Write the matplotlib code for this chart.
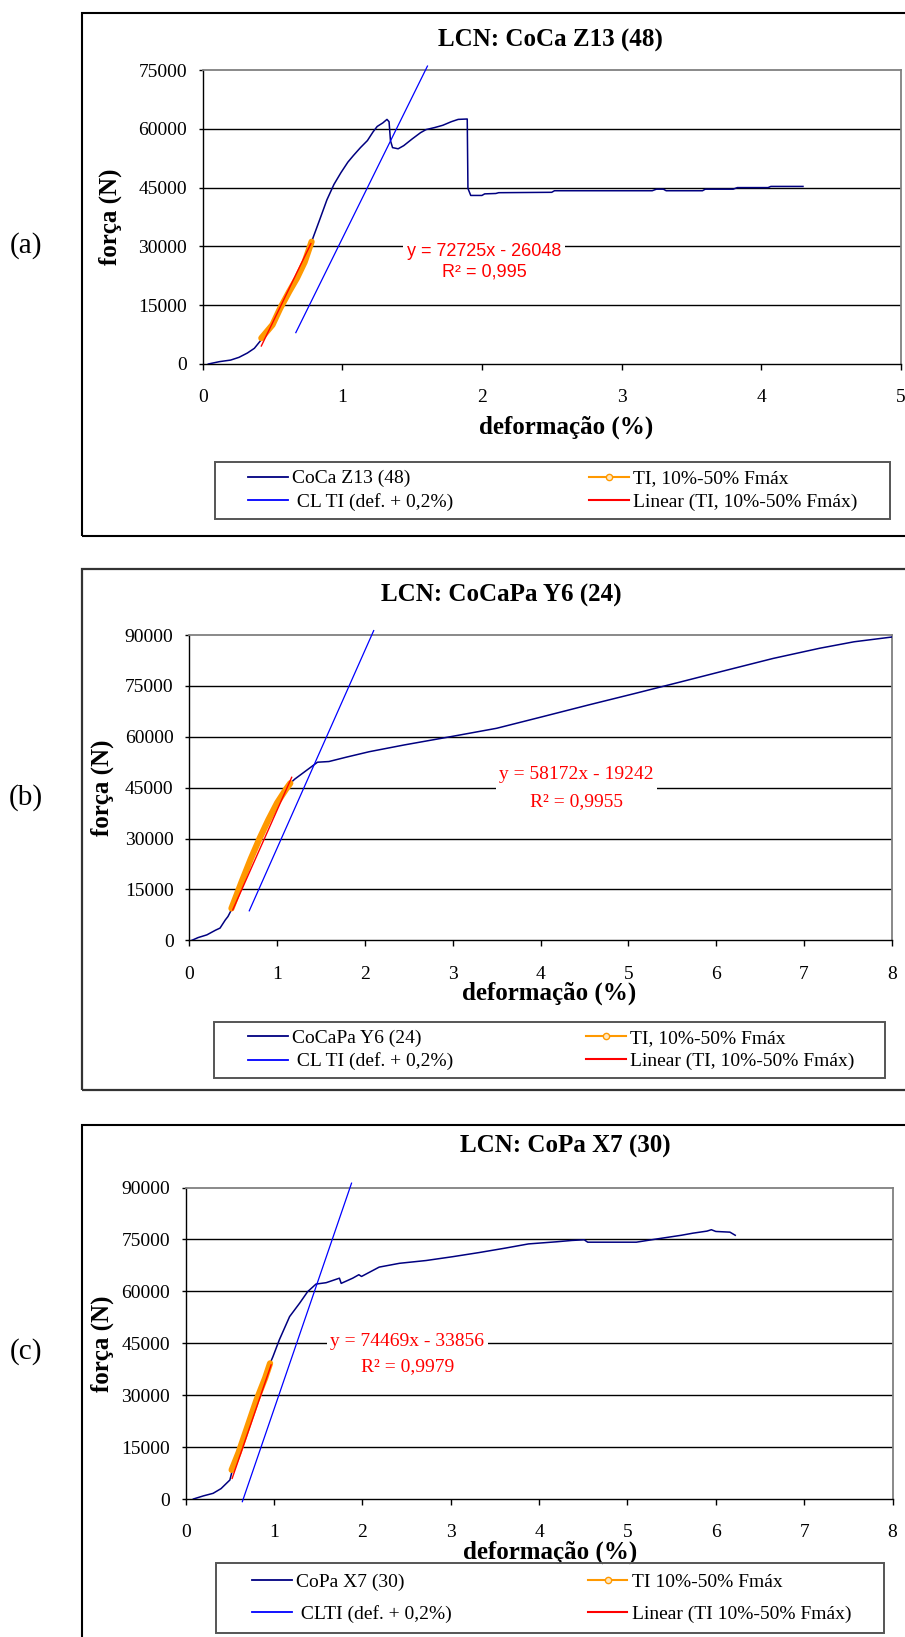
import numpy as np
import matplotlib.pyplot as plt
from matplotlib.lines import Line2D
from matplotlib.patches import Rectangle

W, H = 905, 1637

# ---- (a) LCN: CoCa Z13 (48) ----
a_def = [0.04, 0.12, 0.2, 0.26, 0.32, 0.37, 0.42, 0.5, 0.555, 0.62, 0.675, 0.73, 0.78,
         0.84, 0.89, 0.94, 0.99, 1.04, 1.08, 1.13, 1.18, 1.22, 1.25, 1.29, 1.32, 1.335,
         1.345, 1.36, 1.4, 1.44, 1.5, 1.56, 1.6, 1.66, 1.72, 1.78, 1.83, 1.895, 1.9, 1.92,
         2.0, 2.02, 2.1, 2.12, 2.5, 2.52, 3.22, 3.25, 3.3, 3.32, 3.58, 3.6, 3.8, 3.83,
         4.05, 4.07, 4.3]
a_forca = [0, 600, 1000, 1700, 2800, 4000, 6200, 10000, 14200, 18500, 21900, 26000, 31200,
           37000, 41900, 45800, 48800, 51500, 53200, 55200, 57000, 59200, 60600, 61500, 62400, 61800,
           57000, 55200, 54900, 55700, 57400, 59000, 59800, 60300, 60900, 61800, 62400, 62500, 44800, 43000,
           43000, 43400, 43500, 43700, 43800, 44200, 44200, 44600, 44600, 44200, 44200, 44600, 44600, 45000,
           45000, 45300, 45300]
a_ti_def = [0.42, 0.5, 0.555, 0.62, 0.675, 0.73, 0.78]
a_ti_forca = [6600, 10000, 14200, 18500, 21900, 26000, 31200]
a_lin_def = [0.42, 0.775]
a_lin_forca = [4600, 30700]
a_cl_def = [0.667, 1.61]
a_cl_forca = [8000, 76000]

# ---- (b) LCN: CoCaPa Y6 (24) ----
b_def = [0.03, 0.1, 0.2, 0.3, 0.35, 0.41, 0.44, 0.48, 0.6, 0.7, 0.8, 0.9, 1.0, 1.1, 1.15,
         1.2, 1.33, 1.46, 1.59, 1.79, 2.05, 2.45, 2.97, 3.5, 4.02, 4.55, 5.08, 5.6, 6.13,
         6.65, 7.18, 7.57, 8.0]
b_forca = [0, 800, 1600, 3000, 3600, 6000, 7000, 9000, 17500, 24000, 30000, 35500, 40500, 44500, 46300,
           47500, 50000, 52500, 52700, 54000, 55600, 57600, 60000, 62500, 65900, 69400, 72800, 76200, 79700,
           83100, 86100, 88000, 89400]
b_ti_def = [0.48, 0.6, 0.7, 0.8, 0.9, 1.0, 1.1, 1.15]
b_ti_forca = [9400, 17500, 24000, 30000, 35500, 40500, 44500, 46300]
b_lin_def = [0.494, 1.166]
b_lin_forca = [8930, 48050]
b_cl_def = [0.683, 2.1]
b_cl_forca = [8700, 91300]

# ---- (c) LCN: CoPa X7 (30) ----
c_def = [0.087, 0.2, 0.31, 0.4, 0.5, 0.52, 0.6, 0.7, 0.8, 0.9, 0.955, 0.987, 1.06, 1.176,
         1.29, 1.38, 1.475, 1.59, 1.74, 1.76, 1.89, 1.96, 1.99, 2.19, 2.42, 2.72, 3.02,
         3.32, 3.62, 3.88, 4.19, 4.37, 4.51, 4.55, 5.1, 5.35, 5.61, 5.74, 5.9, 5.95, 6.0,
         6.16, 6.22]
c_forca = [0, 900, 1640, 3000, 5490, 7500, 13500, 21000, 28500, 35000, 39200, 41100, 46000, 52700,
           56600, 59900, 62100, 62500, 63800, 62300, 63800, 64800, 64300, 67000, 68100, 68900, 70000,
           71200, 72500, 73700, 74300, 74700, 74900, 74200, 74200, 75200, 76200, 76800, 77400, 77800, 77300,
           77100, 76200]
c_ti_def = [0.52, 0.6, 0.7, 0.8, 0.9, 0.955]
c_ti_forca = [8400, 13500, 21000, 28500, 35000, 39200]
c_lin_def = [0.526, 0.967]
c_lin_forca = [5970, 38740]
c_cl_def = [0.641, 1.877]
c_cl_forca = [-770, 91250]

SERIF = 'Liberation Serif'
plt.rcParams['font.family'] = SERIF

fig = plt.figure(figsize=(W / 100, H / 100), dpi=100)


def fx(px):
    return px / W


def fy(py):
    return 1 - py / H


def painel(left, top, right, bottom, xmax, ymax, d, f, tid, tif, lind, linf, cld, clf):
    ax = fig.add_axes([fx(left), fy(bottom), fx(right - left), (bottom - top) / H])
    ax.plot(d, f, color='#000080', lw=1.1, zorder=3)
    ax.plot(cld, clf, color='#0000FF', lw=0.9, zorder=3, clip_on=False)
    ax.plot(tid, tif, color='#FF9900', lw=4.5, solid_capstyle='round', zorder=4)
    ax.plot(lind, linf, color='#FF0000', lw=1.0, zorder=5)
    ax.set_xlim(0, xmax)
    ax.set_ylim(0, ymax)
    ax.set_xticks(range(0, xmax + 1))
    ax.set_yticks(np.arange(0, ymax + 1, 15000))
    for yv in np.arange(15000, ymax, 15000):
        ax.axhline(yv, color='black', lw=1.0, zorder=1)
    ax.spines['top'].set_color('#808080')
    ax.spines['right'].set_color('#808080')
    ax.spines['top'].set_linewidth(1.3)
    ax.spines['right'].set_linewidth(1.3)
    ax.spines['left'].set_linewidth(1.0)
    ax.spines['bottom'].set_linewidth(1.0)
    ax.tick_params(axis='x', direction='out', length=4.3, width=1, pad=14, labelsize=14)
    ax.tick_params(axis='y', direction='out', length=2.9, width=1, pad=8.4, labelsize=14)
    return ax


def legenda(hx1, hx2, ycen, labels, lspace):
    h_cur = Line2D([], [], color='#000080', lw=1.3)
    h_cl = Line2D([], [], color='#0000FF', lw=1.3)
    h_ti = Line2D([], [], color='#FF9900', lw=1.5, marker='o', ms=4.5, mfc='#FFE8C0', mec='#FF9900')
    h_lin = Line2D([], [], color='#FF0000', lw=1.5)
    kw = dict(loc='center left', frameon=False, borderpad=0, borderaxespad=0,
              handlelength=2.05, handletextpad=0.22, labelspacing=lspace,
              prop={'family': SERIF, 'size': 14})
    fig.legend([h_cur, h_cl], labels[:2], bbox_to_anchor=(fx(hx1), fy(ycen)), **kw)
    fig.legend([h_ti, h_lin], labels[2:], bbox_to_anchor=(fx(hx2), fy(ycen)), **kw)


def caixa(left, top, right, bottom, color, lw):
    fig.patches.append(Rectangle((fx(left), fy(bottom)), fx(right - left), (bottom - top) / H,
                                 transform=fig.transFigure, fill=False, ec=color, lw=lw))


# panel frames
caixa(81.7, 13.3, 960, 535.7, 'black', 1.5)
caixa(81.7, 569.3, 960, 1090, '#333333', 1.6)
caixa(81.7, 1125, 960, 1700, 'black', 1.5)

# legend frames
caixa(214.7, 462.3, 890, 519, '#555555', 1.4)
caixa(213.6, 1021.7, 885, 1078.3, '#555555', 1.4)
caixa(216, 1563, 884, 1633.3, '#555555', 1.4)

# ---- panel (a)
ax1 = painel(202.7, 70, 900.7, 364, 5, 75000, a_def, a_forca, a_ti_def, a_ti_forca,
             a_lin_def, a_lin_forca, a_cl_def, a_cl_forca)
ax1.set_title('LCN: CoCa Z13 (48)', fontsize=18, fontweight='bold', x=0.4976, y=1.101, va='center', pad=0)
ax1.set_xlabel('deformação (%)', fontsize=18, fontweight='bold', va='center')
ax1.xaxis.set_label_coords(0.5205, -0.2143)
ax1.set_ylabel('força (N)', fontsize=18, fontweight='bold', va='center')
ax1.yaxis.set_label_coords(-0.1328, 0.5)
ax1.text(2.015, 26100, 'y = 72725x - 26048\nR² = 0,995', color='#FF0000', fontsize=13,
         family='Liberation Sans', ha='center', va='center', linespacing=1.3, zorder=6,
         bbox=dict(fc='white', ec='none', pad=2.5))
legenda(248, 588.7, 490.5, ['CoCa Z13 (48)', ' CL TI (def. + 0,2%)',
                            'TI, 10%-50% Fmáx', 'Linear (TI, 10%-50% Fmáx)'], 0.3)

# ---- panel (b)
ax2 = painel(189.3, 635, 891.8, 940.3, 8, 90000, b_def, b_forca, b_ti_def, b_ti_forca,
             b_lin_def, b_lin_forca, b_cl_def, b_cl_forca)
ax2.set_title('LCN: CoCaPa Y6 (24)', fontsize=18, fontweight='bold', x=0.4446, y=1.131, va='center', pad=0)
ax2.set_xlabel('deformação (%)', fontsize=18, fontweight='bold', va='center')
ax2.xaxis.set_label_coords(0.5129, -0.1726)
ax2.set_ylabel('força (N)', fontsize=18, fontweight='bold', va='center')
ax2.yaxis.set_label_coords(-0.1233, 0.5)
ax2.text(4.41, 44930, 'y = 58172x - 19242\nR² = 0,9955', color='#FF0000', fontsize=14,
         ha='center', va='center', linespacing=1.75, zorder=6,
         bbox=dict(fc='white', ec='none', pad=2.5))
legenda(248, 585.8, 1049.7, ['CoCaPa Y6 (24)', ' CL TI (def. + 0,2%)',
                             'TI, 10%-50% Fmáx', 'Linear (TI, 10%-50% Fmáx)'], 0.3)

# ---- panel (c)
ax3 = painel(185.7, 1187.5, 892.5, 1499, 8, 90000, c_def, c_forca, c_ti_def, c_ti_forca,
             c_lin_def, c_lin_forca, c_cl_def, c_cl_forca)
ax3.set_title('LCN: CoPa X7 (30)', fontsize=18, fontweight='bold', x=0.5375, y=1.1317, va='center', pad=0)
ax3.set_xlabel('deformação (%)', fontsize=18, fontweight='bold', va='center')
ax3.xaxis.set_label_coords(0.5149, -0.170)
ax3.set_ylabel('força (N)', fontsize=18, fontweight='bold', va='center')
ax3.yaxis.set_label_coords(-0.1174, 0.5)
ax3.text(2.507, 41920, 'y = 74469x - 33856\nR² = 0,9979', color='#FF0000', fontsize=14,
         ha='center', va='center', linespacing=1.6, zorder=6,
         bbox=dict(fc='white', ec='none', pad=2.5))
legenda(251.7, 587.6, 1598.2, ['CoPa X7 (30)', ' CLTI (def. + 0,2%)',
                               'TI 10%-50% Fmáx', 'Linear (TI 10%-50% Fmáx)'], 0.75)

# panel letters
for lab, py in [('(a)', 246), ('(b)', 798), ('(c)', 1352)]:
    fig.text(fx(26), fy(py), lab, fontsize=21, ha='center', va='center')

fig.savefig('out.png', dpi=100)
